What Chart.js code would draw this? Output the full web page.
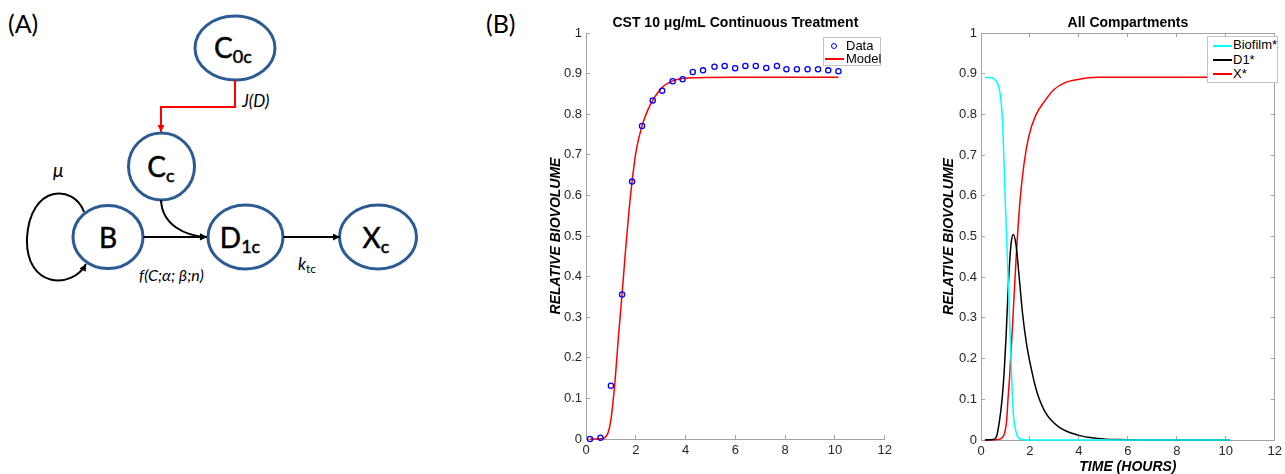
<!DOCTYPE html>
<html lang="en">
<head>
<meta charset="utf-8">
<title>Biofilm compartment model</title>
<script src="https://cdn.jsdelivr.net/npm/chart.js@4.4.1/dist/chart.umd.min.js"></script>
<style>
  html, body { margin: 0; padding: 0; overflow: hidden; background: #fff; }
  body { position: relative; width: 1285px; height: 474px; }
  #diagram { position: absolute; left: 0; top: 0; font-family: Lato, "Open Sans", sans-serif; }
  canvas { position: absolute; top: 0; }
  .legend { position: absolute; box-sizing: border-box; background: #fff; border: 1px solid #c4c4c4;
            font: 13px "Liberation Sans", Arial, sans-serif; color: #000; }
  .legend span { position: absolute; }
  .legend .txt { height: 14px; line-height: 14px; white-space: nowrap; }
  .legend .dot { width: 6px; height: 6px; box-sizing: border-box; border: 1.3px solid #0000ff; border-radius: 50%; }
  .legend .dash { height: 1.6px; width: 19px; }
</style>
</head>
<body>

<!-- (A) compartment diagram -->
<svg id="diagram" width="530" height="474" viewBox="0 0 530 474">
  <defs>
    <marker id="headBlack" viewBox="0 0 10 10" refX="10" refY="5" markerUnits="userSpaceOnUse"
            markerWidth="8" markerHeight="7" orient="auto">
      <path d="M0,0 L10,5 L0,10 z" fill="#000"/>
    </marker>
    <marker id="headRed" viewBox="0 0 10 10" refX="10" refY="5" markerUnits="userSpaceOnUse"
            markerWidth="7" markerHeight="7" orient="auto">
      <path d="M0,0 L10,5 L0,10 z" fill="#ff0000"/>
    </marker>
  </defs>

  <text x="8" y="33" font-size="25">(A)</text>
  <text x="486" y="33" font-size="25">(B)</text>

  <g fill="none" stroke="#2c5b94" stroke-width="3">
    <ellipse cx="235" cy="48" rx="40" ry="32"/>
    <ellipse cx="161.5" cy="166.5" rx="33" ry="33.5"/>
    <ellipse cx="108" cy="237" rx="35" ry="31.5"/>
    <ellipse cx="245.5" cy="237" rx="37.5" ry="32"/>
    <ellipse cx="378" cy="237" rx="38.5" ry="32"/>
  </g>

  <g fill="none" stroke-width="2">
    <polyline points="235,80 235,107 161,107 161,132" stroke="#ff0000" marker-end="url(#headRed)"/>
    <path d="M161,200 C162,225 185,236 207,237" stroke="#000" marker-end="url(#headBlack)"/>
    <line x1="143.5" y1="237" x2="207" y2="237" stroke="#000" marker-end="url(#headBlack)"/>
    <line x1="283.5" y1="237" x2="340" y2="237" stroke="#000" marker-end="url(#headBlack)"/>
    <path d="M84,212 C74,184 30,184 27,238 C25,288 72,290 86,264" stroke="#000" marker-end="url(#headBlack)"/>
  </g>

  <g font-size="28" fill="#000" text-anchor="middle" stroke="#000" stroke-width="0.5">
    <text x="233" y="58">C<tspan font-size="18" dy="5">0c</tspan></text>
    <text x="161" y="177">C<tspan font-size="18" dy="5">c</tspan></text>
    <text x="108" y="248">B</text>
    <text x="240" y="248">D<tspan font-size="18" dy="5">1c</tspan></text>
    <text x="376" y="248">X<tspan font-size="18" dy="5">c</tspan></text>
  </g>

  <g font-style="italic" fill="#000">
    <text x="242" y="107" font-size="17">J(D)</text>
    <text x="53" y="177" font-size="19">μ</text>
    <text x="139" y="281" font-size="16">f(C;α; β;n)</text>
    <text x="298" y="270" font-size="17">k<tspan font-style="normal" font-size="12" dy="3">tc</tspan></text>
  </g>
</svg>

<!-- (B) charts -->
<canvas id="fitChart" width="370" height="474" style="left:530px"></canvas>
<canvas id="compChart" width="360" height="474" style="left:930px"></canvas>

<div class="legend" style="left:823px; top:37px; width:58px; height:29px;">
  <span class="dot" style="left:7px; top:5px;"></span>
  <span class="txt" style="left:22px; top:1px;">Data</span>
  <span class="dash" style="left:1px; top:20px; background:#ff0000;"></span>
  <span class="txt" style="left:22px; top:14px;">Model</span>
</div>

<div class="legend" style="left:1207px; top:36px; width:71px; height:47px;">
  <span class="dash" style="left:5px; top:8px; background:#00ffff;"></span>
  <span class="txt" style="left:25px; top:1px;">Biofilm*</span>
  <span class="dash" style="left:5px; top:22px; background:#000;"></span>
  <span class="txt" style="left:25px; top:16px;">D1*</span>
  <span class="dash" style="left:5px; top:36px; background:#ff0000;"></span>
  <span class="txt" style="left:25px; top:30px;">X*</span>
</div>

<script>
// 1. Values (time in hours, relative biovolume)
const fitTimes  = [0.16, 0.58, 1.00, 1.45, 1.85, 2.25, 2.68, 3.06, 3.48, 3.88, 4.29, 4.70, 5.16,
                   5.57, 5.99, 6.40, 6.82, 7.24, 7.67, 8.05, 8.47, 8.90, 9.32, 9.73, 10.14];
const fitValues = [0.000, 0.003, 0.131, 0.356, 0.634, 0.771, 0.834, 0.858, 0.881, 0.886, 0.904, 0.908, 0.917,
                   0.919, 0.913, 0.919, 0.919, 0.914, 0.919, 0.911, 0.911, 0.911, 0.911, 0.908, 0.906];

const modelTimes  = [0.16, 0.50, 0.69, 0.80, 0.89, 1.00, 1.09, 1.17, 1.30, 1.45, 1.59, 1.73,
                     1.85, 2.02, 2.25, 2.48, 2.68, 3.06, 3.48, 3.88, 4.50, 6.00, 8.00, 10.14];
const modelValues = [0.000, 0.000, 0.001, 0.006, 0.016, 0.047, 0.094, 0.145, 0.250, 0.358, 0.466, 0.564,
                     0.634, 0.712, 0.771, 0.810, 0.834, 0.866, 0.882, 0.888, 0.890, 0.891, 0.891, 0.891];

const biofilmTimes  = [0.16, 0.45, 0.56, 0.69, 0.80, 0.89, 0.99, 1.09, 1.19, 1.26, 1.32, 1.45, 1.63, 2.00, 10.16];
const biofilmValues = [0.891, 0.890, 0.886, 0.874, 0.843, 0.770, 0.590, 0.426, 0.262, 0.140, 0.066, 0.016, 0.002, 0, 0];

const d1Times  = [0.16, 0.50, 0.63, 0.76, 0.87, 0.95, 1.03, 1.12, 1.23, 1.32, 1.43, 1.56,
                  1.69, 1.85, 2.09, 2.30, 2.63, 3.16, 3.96, 4.76, 5.70, 7.00, 10.16];
const d1Values = [0, 0.001, 0.008, 0.049, 0.106, 0.170, 0.262, 0.385, 0.483, 0.505, 0.480, 0.400,
                  0.315, 0.240, 0.165, 0.115, 0.068, 0.033, 0.012, 0.004, 0.001, 0, 0];

const xTimes  = [0.16, 0.70, 0.85, 0.96, 1.05, 1.10, 1.16, 1.27, 1.43, 1.59, 1.76, 1.96, 2.23,
                 2.63, 2.96, 3.43, 3.96, 4.76, 10.16];
const xValues = [0, 0.001, 0.005, 0.016, 0.049, 0.098, 0.147, 0.262, 0.442, 0.585, 0.680, 0.748, 0.797,
                 0.835, 0.860, 0.878, 0.886, 0.891, 0.891];

// 1.1 tick labels
const timeTicks = [0, 2, 4, 6, 8, 10, 12];
const volumeTicks = [0, 0.1, 0.2, 0.3, 0.4, 0.5, 0.6, 0.7, 0.8, 0.9, 1];

// 2. Shared look
const axisGray = '#a3a3a3';
const tickText = '#262626';
Chart.defaults.font.family = '"Liberation Sans", Arial, Helvetica, sans-serif';
Chart.defaults.font.size = 13;
Chart.defaults.color = tickText;

function toPoints(xs, ys) {
    return xs.map((x, i) => ({ x: x, y: ys[i] }));
}

// 2.1 one matlab-like axis: inward ticks, no grid
function axis(position, min, max, tickValues, showLabels, size, title) {
    return {
        type: 'linear',
        position: position,
        min: min,
        max: max,
        afterBuildTicks: s => { s.ticks = tickValues.map(v => ({ value: v })); },
        afterFit: s => {
            if (s.isHorizontal()) s.height = size; else s.width = size;
        },
        ticks: {
            display: showLabels,
            padding: 8,
            autoSkip: false,
            maxRotation: 0,
            color: tickText,
            font: { size: 13 },
            callback: v => String(Math.round(v * 10) / 10)
        },
        grid: { drawOnChartArea: false, drawTicks: true, tickLength: -4, color: axisGray, lineWidth: 1 },
        border: { display: true, color: axisGray, width: 1 },
        title: title || { display: false }
    };
}

function yTitle(pad) {
    return {
        display: true,
        text: 'RELATIVE BIOVOLUME',
        color: '#000',
        font: { size: 14, weight: 'bold', style: 'italic' },
        padding: { top: pad, bottom: 0 }
    };
}

function chartTitle(text) {
    return {
        display: true,
        text: text,
        color: '#000',
        fullSize: false,
        font: { size: 14, weight: 'bold', lineHeight: 1.2 },
        padding: { top: 15, bottom: 1.2 }
    };
}

function lineSet(label, xs, ys, color) {
    return {
        label: label,
        data: toPoints(xs, ys),
        showLine: true,
        borderColor: color,
        backgroundColor: color,
        borderWidth: 1.5,
        pointRadius: 0,
        cubicInterpolationMode: 'monotone',
        clip: 4
    };
}

// 3. Fit to data chart
new Chart(document.getElementById('fitChart'), {
    type: 'scatter',
    data: {
        datasets: [
            {
                label: 'Data',
                data: toPoints(fitTimes, fitValues),
                pointStyle: 'circle',
                pointRadius: 2.6,
                pointBorderWidth: 1.3,
                borderColor: '#0000ff',
                backgroundColor: 'rgba(0,0,0,0)',
                clip: false
            },
            lineSet('Model', modelTimes, modelValues, '#ff0000')
        ]
    },
    options: {
        responsive: false,
        animation: false,
        devicePixelRatio: 1,
        layout: { padding: { left: 0, right: 13, top: 0, bottom: 0 } },
        plugins: {
            legend: { display: false },
            tooltip: { enabled: false },
            title: chartTitle('CST 10 μg/mL Continuous Treatment')
        },
        scales: {
            x: axis('bottom', 0, 12, timeTicks, true, 35),
            y: axis('left', 0, 1, volumeTicks, true, 56, yTitle(17.6))
        }
    }
});

// 4. All compartments chart (boxed axes)
new Chart(document.getElementById('compChart'), {
    type: 'scatter',
    data: {
        datasets: [
            lineSet('Biofilm*', biofilmTimes, biofilmValues, '#00ffff'),
            lineSet('D1*', d1Times, d1Values, '#000000'),
            lineSet('X*', xTimes, xValues, '#ff0000')
        ]
    },
    options: {
        responsive: false,
        animation: false,
        devicePixelRatio: 1,
        layout: { padding: { left: 0, right: 9, top: 0, bottom: 0 } },
        plugins: {
            legend: { display: false },
            tooltip: { enabled: false },
            title: chartTitle('All Compartments')
        },
        scales: {
            x: axis('bottom', 0, 12, timeTicks, true, 34, {
                display: true,
                text: 'TIME (HOURS)',
                color: '#000',
                font: { size: 14, weight: 'bold', style: 'italic', lineHeight: 1 },
                padding: { top: 0, bottom: 0 }
            }),
            y: axis('left', 0, 1, volumeTicks, true, 51, yTitle(10.6)),
            xTop: axis('top', 0, 12, timeTicks, false, 0),
            yRight: axis('right', 0, 1, volumeTicks, false, 0)
        }
    }
});
</script>
</body>
</html>
